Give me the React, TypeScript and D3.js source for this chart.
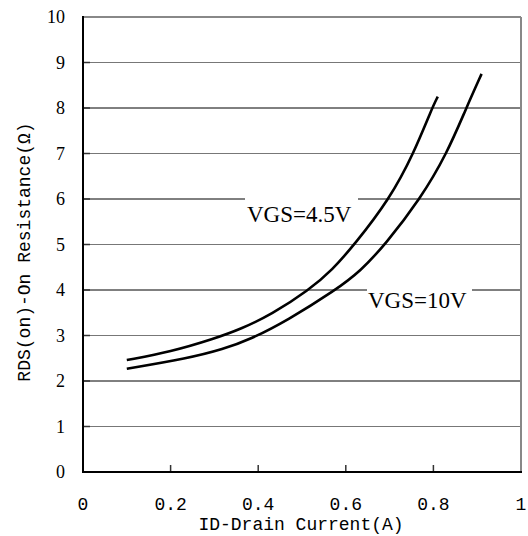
import React from "react";
import * as d3 from "d3";

const xTicks = [0, 0.2, 0.4, 0.6, 0.8, 1];
const xTickLabels = ["0", "0.2", "0.4", "0.6", "0.8", "1"];
const yTicks = [0, 1, 2, 3, 4, 5, 6, 7, 8, 9, 10];

const vgs45X = [0.1, 0.2, 0.3, 0.36, 0.43, 0.516, 0.569, 0.62, 0.7, 0.755, 0.797, 0.81];
const vgs45Y = [2.46, 2.64, 2.93, 3.14, 3.46, 4.0, 4.44, 5.0, 6.0, 7.0, 8.0, 8.25];

const vgs10X = [0.1, 0.24, 0.32, 0.383, 0.466, 0.577, 0.634, 0.69, 0.77, 0.831, 0.875, 0.91];
const vgs10Y = [2.27, 2.5, 2.7, 2.92, 3.33, 4.0, 4.42, 5.0, 6.0, 7.0, 8.0, 8.75];

const seriesLabels = ["VGS=4.5V", "VGS=10V"];

const W = 528;
const H = 536;
const L = 83;
const R = 521;
const T = 17;
const B = 472;

const SERIF = "'Liberation Serif', 'Times New Roman', 'DejaVu Serif', serif";
const MONO = "'Liberation Mono', 'Courier New', 'DejaVu Sans Mono', monospace";

export default function App() {
  const x = d3.scaleLinear().domain([0, 1]).range([L, R]);
  const y = d3.scaleLinear().domain([0, 10]).range([B, T]);
  const line = d3
    .line<[number, number]>()
    .x((d) => x(d[0]))
    .y((d) => y(d[1]))
    .curve(d3.curveBasis);
  const d45 = line(vgs45X.map((v, i) => [v, vgs45Y[i]] as [number, number])) || "";
  const d10 = line(vgs10X.map((v, i) => [v, vgs10Y[i]] as [number, number])) || "";

  return (
    <svg
      width={W}
      height={H}
      style={{ position: "absolute", left: 0, top: 0, background: "#fff" }}
    >
      <rect x={0} y={0} width={W} height={H} fill="#fff" />
      {yTicks
        .filter((t) => t > 0 && t < 10)
        .map((t) => (
          <line
            key={"g" + t}
            x1={L}
            x2={R}
            y1={y(t)}
            y2={y(t)}
            stroke={t % 2 === 0 ? "#000" : "#777"}
            strokeWidth={1}
          />
        ))}
      {yTicks.map((t) => (
        <line key={"yt" + t} x1={L} x2={L + 7} y1={y(t)} y2={y(t)} stroke="#333" strokeWidth={1.5} />
      ))}
      {xTicks
        .filter((t) => t > 0 && t < 1)
        .map((t) => (
          <line key={"xt" + t} x1={x(t)} x2={x(t)} y1={B} y2={B - 7} stroke="#333" strokeWidth={1.5} />
        ))}
      <line x1={L} x2={R} y1={T} y2={T} stroke="#888" strokeWidth={2} />
      <line x1={R} x2={R} y1={T} y2={B} stroke="#888" strokeWidth={2} />
      <line x1={L} x2={L} y1={T - 1} y2={B + 1} stroke="#000" strokeWidth={2} />
      <line x1={L - 1} x2={R + 1} y1={B} y2={B} stroke="#000" strokeWidth={2} />

      <path d={d45} fill="none" stroke="#000" strokeWidth={2.6} />
      <path d={d10} fill="none" stroke="#000" strokeWidth={2.6} />

      <rect x={245} y={193} width={113} height={34} fill="#fff" />
      <text x={247} y={222} fontFamily={SERIF} fontSize={23} fill="#000">
        {seriesLabels[0]}
      </text>
      <rect x={367} y={283} width={105} height={32} fill="#fff" />
      <text x={368} y={308} fontFamily={SERIF} fontSize={23} fill="#000">
        {seriesLabels[1]}
      </text>

      {yTicks.map((t) => (
        <text
          key={"yl" + t}
          x={65}
          y={y(t) + 6}
          textAnchor="end"
          fontFamily={SERIF}
          fontSize={18}
          fill="#000"
        >
          {t}
        </text>
      ))}
      {xTicks.map((t, i) => (
        <text
          key={"xl" + t}
          x={x(t)}
          y={510}
          textAnchor="middle"
          fontFamily={MONO}
          fontSize={18}
          fill="#000"
        >
          {xTickLabels[i]}
        </text>
      ))}
      <text x={301} y={530} textAnchor="middle" fontFamily={MONO} fontSize={18} fill="#000">
        ID-Drain Current(A)
      </text>
      <text
        transform={`translate(30,252) rotate(-90)`}
        textAnchor="middle"
        fontFamily={MONO}
        fontSize={18}
        fill="#000"
      >
        RDS(on)-On Resistance(Ω)
      </text>
    </svg>
  );
}
